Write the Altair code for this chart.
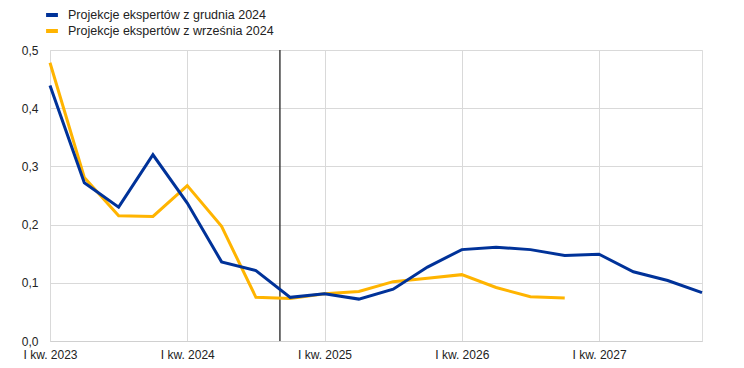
import altair as alt
import pandas as pd

quarters = [
    "I kw. 2023", "II kw. 2023", "III kw. 2023", "IV kw. 2023",
    "I kw. 2024", "II kw. 2024", "III kw. 2024", "IV kw. 2024",
    "I kw. 2025", "II kw. 2025", "III kw. 2025", "IV kw. 2025",
    "I kw. 2026", "II kw. 2026", "III kw. 2026", "IV kw. 2026",
    "I kw. 2027", "II kw. 2027", "III kw. 2027", "IV kw. 2027",
]
dec_2024 = [0.439, 0.272, 0.230, 0.320, 0.237, 0.136, 0.121, 0.075,
            0.081, 0.072, 0.089, 0.127, 0.157, 0.161, 0.157, 0.147,
            0.149, 0.119, 0.104, 0.083]
sep_2024 = [0.478, 0.281, 0.215, 0.214, 0.267, 0.197, 0.075, 0.073,
            0.081, 0.085, 0.102, 0.108, 0.114, 0.092, 0.076, 0.074]
series_names = ["Projekcje ekspertów z grudnia 2024", "Projekcje ekspertów z września 2024"]
series_colors = ["#003299", "#FFB400"]
tick_values = [0, 4, 8, 12, 16]
y_ticks = [0.0, 0.1, 0.2, 0.3, 0.4, 0.5]
cutoff_position = 6.7

rows = []
for i, v in enumerate(dec_2024):
    rows.append({"t": i, "q": quarters[i], "v": v, "s": series_names[0]})
for i, v in enumerate(sep_2024):
    rows.append({"t": i, "q": quarters[i], "v": v, "s": series_names[1]})
df = pd.DataFrame(rows)

label_map = "{" + ",".join(f"'{i}':'{quarters[i]}'" for i in tick_values) + "}"

x_enc = alt.X(
    "t:Q",
    scale=alt.Scale(domain=[0, len(quarters) - 1], nice=False, zero=False),
    axis=alt.Axis(
        values=tick_values,
        labelExpr=f"{label_map}[''+datum.value]",
        grid=True, gridColor="#d9d9d9", ticks=False, labelFlush=False,
        domainColor="#d0d0d0", labelPadding=8, title=None,
        labelFontSize=12, labelColor="#222222", labelFont="Liberation Sans",
    ),
)
y_enc = alt.Y(
    "v:Q",
    scale=alt.Scale(domain=[0, 0.5], nice=False),
    axis=alt.Axis(
        values=y_ticks,
        labelExpr="replace(format(datum.value, '.1f'), '.', ',')",
        grid=True, gridColor="#d9d9d9", ticks=False, domain=False,
        labelPadding=12, title=None,
        labelFontSize=12, labelColor="#222222", labelFont="Liberation Sans",
    ),
)
color_enc = alt.Color(
    "s:N",
    scale=alt.Scale(domain=series_names, range=series_colors),
    legend=alt.Legend(
        title=None, orient="none", legendX=-6, legendY=-43,
        symbolType="stroke", symbolStrokeWidth=4, symbolSize=140,
        labelFontSize=12.5, labelFont="Liberation Sans", labelColor="#222222",
        rowPadding=0, labelOffset=8, padding=0, labelLimit=0,
    ),
)

base = alt.Chart(df)
yellow = base.transform_filter(alt.datum.s == series_names[1]).mark_line(strokeWidth=3).encode(
    x=x_enc, y=y_enc, color=color_enc)
blue = base.transform_filter(alt.datum.s == series_names[0]).mark_line(strokeWidth=3).encode(
    x=x_enc, y=y_enc, color=color_enc)

cut = alt.Chart(pd.DataFrame({"t": [cutoff_position]})).mark_rule(
    color="#404040", strokeWidth=1.5).encode(x="t:Q")

chart = alt.layer(cut, yellow, blue).properties(
    width=652, height=291,
    autosize=alt.AutoSizeParams(type="none"),
    padding={"left": 42, "top": 42, "right": 30, "bottom": 20},
).configure_view(stroke=None).configure(background="white")

chart.save("out.html", embed_options={"renderer": "svg", "actions": False})
